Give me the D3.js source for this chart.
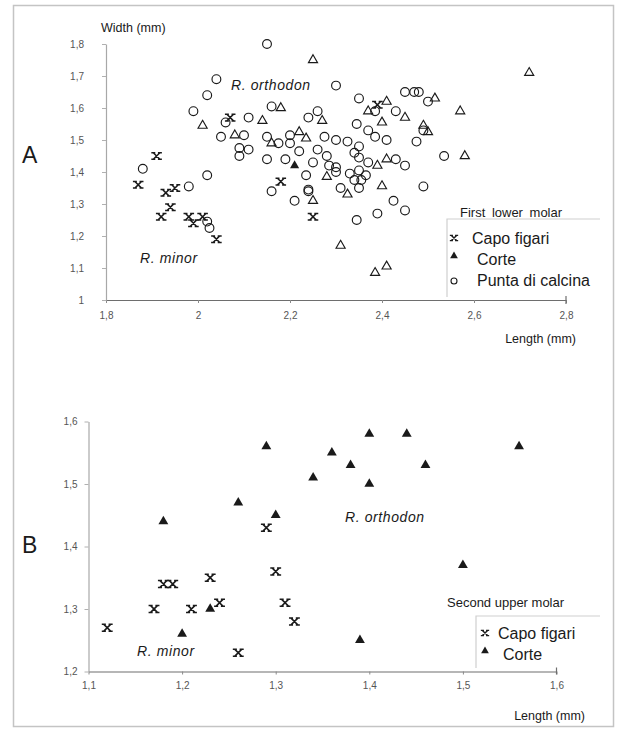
<!DOCTYPE html>
<html>
<head>
<meta charset="utf-8">
<script src="https://cdn.jsdelivr.net/npm/d3@7"></script>
<style>
  body { margin: 0; background: white; }
  text { font-family: "Liberation Sans", Arial, sans-serif; }
</style>
</head>
<body>
<div id="chart"></div>
<script>
// ---- data: [length, width] in mm ----
// A: first lower molar
const capoFigariA = [
  [1.87, 1.36], [1.91, 1.45], [1.93, 1.335], [1.95, 1.35], [1.94, 1.29],
  [1.92, 1.26], [1.98, 1.26], [1.99, 1.24], [2.01, 1.26], [2.04, 1.19],
  [2.07, 1.57], [2.18, 1.37], [2.25, 1.26], [2.39, 1.61]
];
const corteA = [
  [2.25, 1.75], [2.72, 1.71], [2.41, 1.62], [2.515, 1.63], [2.18, 1.6],
  [2.37, 1.59], [2.57, 1.59], [2.01, 1.545], [2.14, 1.56], [2.27, 1.56],
  [2.45, 1.57], [2.40, 1.555], [2.49, 1.545], [2.50, 1.525], [2.08, 1.515],
  [2.16, 1.49], [2.22, 1.525], [2.235, 1.505], [2.41, 1.44], [2.39, 1.42],
  [2.58, 1.45], [2.28, 1.385], [2.40, 1.356], [2.325, 1.33], [2.25, 1.31],
  [2.31, 1.17], [2.385, 1.085], [2.41, 1.105]
];
const corteAFilled = [[2.21, 1.42]];
const puntaCalcinaA = [
  [2.15, 1.80], [2.04, 1.69], [2.02, 1.64], [1.99, 1.59], [2.06, 1.555],
  [2.11, 1.57], [2.05, 1.51], [2.10, 1.515], [2.15, 1.51], [2.09, 1.475],
  [2.11, 1.47], [2.09, 1.45], [2.15, 1.44], [1.88, 1.41], [2.02, 1.39],
  [1.98, 1.355], [2.02, 1.245], [2.025, 1.225], [2.16, 1.34], [2.30, 1.67],
  [2.16, 1.605], [2.26, 1.59], [2.24, 1.57], [2.175, 1.49], [2.20, 1.515],
  [2.20, 1.49], [2.275, 1.51], [2.30, 1.50], [2.19, 1.44], [2.22, 1.465],
  [2.26, 1.47], [2.25, 1.43], [2.285, 1.42], [2.235, 1.39], [2.30, 1.415],
  [2.45, 1.65], [2.47, 1.65], [2.48, 1.65], [2.35, 1.63], [2.50, 1.62],
  [2.385, 1.59], [2.43, 1.59], [2.345, 1.55], [2.49, 1.53], [2.37, 1.53],
  [2.385, 1.51], [2.41, 1.50], [2.475, 1.495], [2.325, 1.495], [2.35, 1.48],
  [2.34, 1.46], [2.35, 1.445], [2.28, 1.45], [2.37, 1.43], [2.43, 1.44],
  [2.45, 1.42], [2.535, 1.45], [2.30, 1.40], [2.33, 1.395], [2.35, 1.405],
  [2.365, 1.39], [2.34, 1.375], [2.355, 1.375], [2.31, 1.35], [2.49, 1.355],
  [2.35, 1.35], [2.24, 1.34], [2.21, 1.31], [2.345, 1.25], [2.39, 1.27],
  [2.425, 1.31], [2.45, 1.28], [2.24, 1.345]
];

// B: second upper molar
const capoFigariB = [
  [1.12, 1.27], [1.17, 1.30], [1.18, 1.34], [1.19, 1.34], [1.21, 1.30],
  [1.23, 1.35], [1.24, 1.31], [1.26, 1.23], [1.29, 1.43], [1.30, 1.36],
  [1.31, 1.31], [1.32, 1.28]
];
const corteB = [
  [1.18, 1.44], [1.20, 1.26], [1.23, 1.30], [1.26, 1.47], [1.29, 1.56],
  [1.30, 1.45], [1.34, 1.51], [1.36, 1.55], [1.38, 1.53], [1.40, 1.58],
  [1.40, 1.50], [1.44, 1.58], [1.46, 1.53], [1.56, 1.56], [1.50, 1.37],
  [1.39, 1.25]
];

// ticks
const xTicksA = [1.8, 2, 2.2, 2.4, 2.6, 2.8];
const xTickLabelsA = ["1,8", "2", "2,2", "2,4", "2,6", "2,8"];
const yTicksA = [1, 1.1, 1.2, 1.3, 1.4, 1.5, 1.6, 1.7, 1.8];
const yTickLabelsA = ["1", "1,1", "1,2", "1,3", "1,4", "1,5", "1,6", "1,7", "1,8"];
const xTicksB = [1.1, 1.2, 1.3, 1.4, 1.5, 1.6];
const xTickLabelsB = ["1,1", "1,2", "1,3", "1,4", "1,5", "1,6"];
const yTicksB = [1.2, 1.3, 1.4, 1.5, 1.6];
const yTickLabelsB = ["1,2", "1,3", "1,4", "1,5", "1,6"];

const legendA = ["Capo figari", "Corte", "Punta di calcina"];
const legendB = ["Capo figari", "Corte"];

const width = 622;
const height = 732;
const ink = "#1a1a1a";

const svg = d3.select("#chart")
  .append("svg")
  .attr("width", width)
  .attr("height", height)
  .style("background-color", "white");

// outer frame of the scanned figure
svg.append("rect")
  .attr("x", 13.5).attr("y", 5.5)
  .attr("width", 600).attr("height", 721)
  .attr("fill", "none")
  .attr("stroke", "#c4c4c4")
  .attr("stroke-width", 1.5);

// scales
const xA = d3.scaleLinear().domain([1.8, 2.8]).range([106, 566]);
const yA = d3.scaleLinear().domain([1, 1.8]).range([300, 44]);
const xB = d3.scaleLinear().domain([1.1, 1.6]).range([88.5, 556.5]);
const yB = d3.scaleLinear().domain([1.2, 1.6]).range([671.5, 421.5]);

// asterisk-like cross used for Capo figari
function capoPath(s) {
  const b = s * 0.6;
  return `M${-s},${-s}L${s},${s}M${-s},${s}L${s},${-s}` +
    `M${-s - b},${-s}L${-s + b},${-s}M${s - b},${-s}L${s + b},${-s}` +
    `M${-s - b},${s}L${-s + b},${s}M${s - b},${s}L${s + b},${s}`;
}

function drawAxes(g, x, y, xt, xl, yt, yl, yPad, xPad) {
  const xa = g.append("g")
    .attr("transform", `translate(0,${y.range()[0]})`)
    .call(d3.axisBottom(x).tickValues(xt).tickFormat((d, i) => xl[i])
      .tickSizeInner(3).tickSizeOuter(0).tickPadding(xPad));
  xa.select(".domain").attr("stroke", "#6e6e6e").attr("stroke-width", 1.2);
  xa.selectAll(".tick line").attr("stroke", "#8a8a8a");
  xa.selectAll("text").style("font-size", "10px").attr("fill", "#555");

  const ya = g.append("g")
    .attr("transform", `translate(${x.range()[0]},0)`)
    .call(d3.axisLeft(y).tickValues(yt).tickFormat((d, i) => yl[i])
      .tickSizeInner(4).tickSizeOuter(0).tickPadding(yPad));
  ya.select(".domain").attr("stroke", "#a8a8a8").attr("stroke-width", 1.2);
  ya.selectAll(".tick line").attr("stroke", "#b0b0b0");
  ya.selectAll("text").style("font-size", "10px").attr("fill", "#555");
}

// ---------------- Panel A ----------------
const gA = svg.append("g");
drawAxes(gA, xA, yA, xTicksA, xTickLabelsA, yTicksA, yTickLabelsA, 18, 9);

// end tick on the x axis
gA.append("line")
  .attr("x1", xA(2.8)).attr("x2", xA(2.8))
  .attr("y1", yA(1) - 4).attr("y2", yA(1) + 4)
  .attr("stroke", "#6e6e6e").attr("stroke-width", 1.2);

gA.append("text").attr("x", 101).attr("y", 32)
  .style("font-size", "12.5px").attr("fill", ink).text("Width (mm)");
gA.append("text").attr("x", 22).attr("y", 163)
  .style("font-size", "23px").attr("fill", ink).text("A");
gA.append("text").attr("x", 576).attr("y", 343).attr("text-anchor", "end")
  .style("font-size", "12.5px").attr("fill", ink).text("Length (mm)");
gA.append("text").attr("x", 460).attr("y", 217)
  .style("font-size", "13px").attr("fill", ink).style("word-spacing", "3px")
  .text("First lower molar");
gA.append("text").attr("x", 231).attr("y", 90)
  .style("font-size", "14px").style("font-style", "italic").attr("fill", ink)
  .style("letter-spacing", "0.6px").text("R. orthodon");
gA.append("text").attr("x", 140).attr("y", 263)
  .style("font-size", "14px").style("font-style", "italic").attr("fill", ink)
  .style("letter-spacing", "0.6px").text("R. minor");

// points
gA.append("g").selectAll("circle")
  .data(puntaCalcinaA)
  .enter().append("circle")
  .attr("cx", d => xA(d[0]))
  .attr("cy", d => yA(d[1]))
  .attr("r", 4.4)
  .attr("fill", "none")
  .attr("stroke", ink)
  .attr("stroke-width", 1.15);

gA.append("g").selectAll("path")
  .data(corteA)
  .enter().append("path")
  .attr("d", d3.symbol().type(d3.symbolTriangle).size(36))
  .attr("transform", d => `translate(${xA(d[0])},${yA(d[1])})`)
  .attr("fill", "none")
  .attr("stroke", ink)
  .attr("stroke-width", 1.15);

gA.append("g").selectAll("path")
  .data(corteAFilled)
  .enter().append("path")
  .attr("d", d3.symbol().type(d3.symbolTriangle).size(36))
  .attr("transform", d => `translate(${xA(d[0])},${yA(d[1])})`)
  .attr("fill", ink);

gA.append("g").selectAll("path")
  .data(capoFigariA)
  .enter().append("path")
  .attr("d", capoPath(3.3))
  .attr("transform", d => `translate(${xA(d[0])},${yA(d[1])})`)
  .attr("fill", "none")
  .attr("stroke", ink)
  .attr("stroke-width", 1.5);

// legend A
const legA = gA.append("g");
legA.append("path")
  .attr("d", "M447,297V219H600")
  .attr("fill", "none").attr("stroke", "#cfcfcf").attr("stroke-width", 1.2);
const legYA = [238, 259, 280];
legendA.forEach((name, i) => {
  const sx = 454, sy = legYA[i];
  if (i === 0) {
    legA.append("path").attr("d", capoPath(2.6)).attr("transform", `translate(${sx},${sy})`)
      .attr("fill", "none").attr("stroke", ink).attr("stroke-width", 1.4);
  } else if (i === 1) {
    legA.append("path").attr("d", d3.symbol().type(d3.symbolTriangle).size(26)())
      .attr("transform", `translate(${sx},${sy - 3})`).attr("fill", ink);
  } else {
    legA.append("circle").attr("cx", sx).attr("cy", sy + 1).attr("r", 3)
      .attr("fill", "none").attr("stroke", ink).attr("stroke-width", 1.1);
  }
  legA.append("text").attr("x", i === 0 ? 472 : 477).attr("y", sy + 6)
    .style("font-size", "16px").attr("fill", ink).text(name);
});

// ---------------- Panel B ----------------
const gB = svg.append("g");
drawAxes(gB, xB, yB, xTicksB, xTickLabelsB, yTicksB, yTickLabelsB, 7, 7);

gB.append("line")
  .attr("x1", xB(1.6)).attr("x2", xB(1.6))
  .attr("y1", yB(1.2) - 4).attr("y2", yB(1.2) + 3)
  .attr("stroke", "#6e6e6e").attr("stroke-width", 1.2);

gB.append("text").attr("x", 22).attr("y", 553)
  .style("font-size", "23px").attr("fill", ink).text("B");
gB.append("text").attr("x", 585).attr("y", 720).attr("text-anchor", "end")
  .style("font-size", "12.5px").attr("fill", ink).text("Length (mm)");
gB.append("text").attr("x", 447).attr("y", 607)
  .style("font-size", "13px").attr("fill", ink).text("Second upper molar");
gB.append("text").attr("x", 345).attr("y", 522)
  .style("font-size", "14px").style("font-style", "italic").attr("fill", ink)
  .style("letter-spacing", "0.6px").text("R. orthodon");
gB.append("text").attr("x", 137).attr("y", 656)
  .style("font-size", "14px").style("font-style", "italic").attr("fill", ink)
  .style("letter-spacing", "0.6px").text("R. minor");

gB.append("g").selectAll("path")
  .data(corteB)
  .enter().append("path")
  .attr("d", d3.symbol().type(d3.symbolTriangle).size(42))
  .attr("transform", d => `translate(${xB(d[0])},${yB(d[1])})`)
  .attr("fill", ink);

gB.append("g").selectAll("path")
  .data(capoFigariB)
  .enter().append("path")
  .attr("d", capoPath(3.4))
  .attr("transform", d => `translate(${xB(d[0])},${yB(d[1])})`)
  .attr("fill", "none")
  .attr("stroke", ink)
  .attr("stroke-width", 1.5);

// legend B
const legB = gB.append("g");
legB.append("path")
  .attr("d", "M476,668V616H600")
  .attr("fill", "none").attr("stroke", "#cfcfcf").attr("stroke-width", 1.2);
const legYB = [633, 654];
legendB.forEach((name, i) => {
  const sx = 485, sy = legYB[i];
  if (i === 0) {
    legB.append("path").attr("d", capoPath(2.6)).attr("transform", `translate(${sx},${sy})`)
      .attr("fill", "none").attr("stroke", ink).attr("stroke-width", 1.4);
  } else {
    legB.append("path").attr("d", d3.symbol().type(d3.symbolTriangle).size(26)())
      .attr("transform", `translate(${sx},${sy - 3})`).attr("fill", ink);
  }
  legB.append("text").attr("x", i === 0 ? 498 : 503).attr("y", sy + 6)
    .style("font-size", "16px").attr("fill", ink).text(name);
});
</script>
</body>
</html>
